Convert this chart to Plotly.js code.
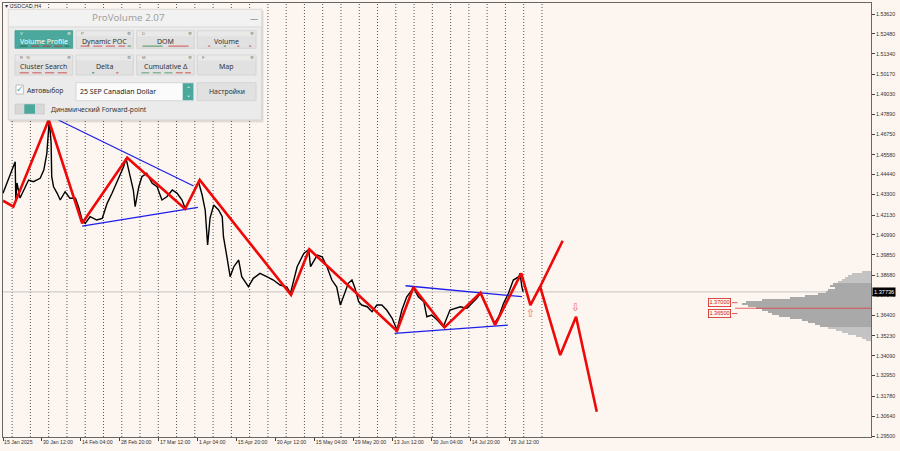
<!DOCTYPE html>
<html>
<head>
<meta charset="utf-8">
<script src="https://cdn.plot.ly/plotly-3.0.1.min.js"></script>
<style>html,body{margin:0;padding:0;background:#fdf5ef;}#chart{width:900px;height:451px;}</style>
</head>
<body>
<div id="chart"></div>
<script>
// ---------------- DATA ----------------
// x = H4 bar index counted from 15 Jan 2025 00:00
const timeTickBars = [0,64,128,192,256,320,384,448,512,576,640,704,768,832];
const timeTickLabels = ['15 Jan 2025','30 Jan 12:00','14 Feb 04:00','28 Feb 20:00','17 Mar 12:00','1 Apr 04:00','15 Apr 20:00','30 Apr 12:00','15 May 04:00','29 May 20:00','13 Jun 12:00','30 Jun 04:00','14 Jul 20:00','29 Jul 12:00'];
const weekSeparatorBars = [15,45,75,105,135,165,195,225,255,285,315,345,375,405,435,465,495,525,555,585,615,645,675,705,735,765,795,825,855,885];

const priceTickVals = [1.53620,1.52480,1.51340,1.50170,1.49030,1.47890,1.46750,1.45580,1.44440,1.43300,1.42130,1.40990,1.39850,1.38680,1.37540,1.36400,1.35230,1.34090,1.32950,1.31780,1.30640,1.29500];
const priceTickLabels = ['1.53620','1.52480','1.51340','1.50170','1.49030','1.47890','1.46750','1.45580','1.44440','1.43300','1.42130','1.40990','1.39850','1.38680','1.37540','1.36400','1.35230','1.34090','1.32950','1.31780','1.30640','1.29500'];

const priceBars = [
  0,7,15,20,21,23,28,37,42,50,
  61,67,72,76,79,80,83,89,94,102,
  110,119,124,130,135,143,154,163,171,179,
  187,198,202,209,214,217,223,228,236,245,
  253,261,269,278,286,294,299,308,316,321,
  327,332,336,340,346,354,360,362,368,373,
  379,387,392,403,411,422,433,444,455,466,
  472,483,494,502,505,516,524,532,540,548,
  554,559,567,573,578,584,589,598,606,614,
  622,630,639,647,655,663,672,674,682,691,
  696,704,713,723,734,743,751,762,770,778,
  784,792,800,807,814,822,830,838,847,849,
  852,854];
const priceValues = [
  1.43371,1.44034,1.44703,1.45177,1.42988,1.43960,1.43102,1.43748,1.44131,1.44034,
  1.44228,1.44703,1.45657,1.47561,1.46246,1.44320,1.43748,1.43371,1.42988,1.43462,
  1.43085,1.43085,1.42605,1.41845,1.41656,1.42033,1.41845,1.41942,1.42799,1.43371,
  1.44034,1.44892,1.45372,1.44320,1.43560,1.42605,1.43748,1.44320,1.44514,1.43943,
  1.43748,1.42988,1.43177,1.43560,1.43371,1.42988,1.42514,1.43085,1.43657,1.44034,
  1.43274,1.42416,1.40416,1.41959,1.42702,1.42416,1.42033,1.40890,1.39673,1.38604,
  1.39176,1.39558,1.38604,1.38032,1.38512,1.38798,1.38604,1.38415,1.38129,1.38032,
  1.37655,1.39176,1.39941,1.40159,1.39176,1.39844,1.39747,1.39176,1.38415,1.38015,
  1.36986,1.37461,1.38227,1.38415,1.37941,1.37175,1.36986,1.36889,1.36603,1.36986,
  1.36986,1.36700,1.36226,1.35557,1.36700,1.37461,1.37844,1.37958,1.37461,1.37175,
  1.36317,1.36415,1.36129,1.35746,1.36700,1.36798,1.36889,1.36798,1.37083,1.37369,
  1.37655,1.37083,1.36512,1.35940,1.36317,1.37083,1.37655,1.38415,1.38604,1.38798,
  1.38032,1.37736];
const currentPrice = 1.37736;

const zigzagBars = [0,17,75,130,204,299,323,473,503,647,674,725,784,808,851,866,882,919];
const zigzagPrices = [1.42948,1.42605,1.47561,1.41656,1.45406,1.42474,1.44131,1.37558,1.40170,1.35500,1.37998,1.35712,1.37689,1.35843,1.38798,1.36986,1.38032,1.40662];
const altPathBars = [882,915,941,975];
const altPathPrices = [1.38032,1.34128,1.36317,1.30887];

const wedgeTopBars = [91,313];      const wedgeTopPrices = [1.47561,1.43788];
const wedgeBottomBars = [130,320];  const wedgeBottomPrices = [1.41502,1.42571];
const channelTopBars = [661,852];   const channelTopPrices = [1.38089,1.37461];
const channelBottomBars = [643,829];const channelBottomPrices = [1.35368,1.35843];

const signalBars = [866,940];
const signalPrices = [1.36472,1.36798];
const signalGlyphs = ['⇧','⇩'];

const profilePrices = [1.3887,1.3876,1.3864,1.3853,1.3842,1.3830,1.3819,1.3807,1.3796,1.3784,1.3773,1.3762,1.3750,1.3739,1.3727,1.3716,1.3704,1.3693,1.3682,1.3670,1.3659,1.3647,1.3636,1.3624,1.3613,1.3601,1.3590,1.3579,1.3567,1.3556,1.3544,1.3533,1.3521,1.3510,1.3499];
const profileVolumes = [9,19,23,26,29,33,38,41,36,43,45,53,66,81,109,125,129,123,115,109,103,99,92,81,69,63,56,51,43,35,29,23,15,9,5];
const valueAreaHigh = 1.3819, valueAreaLow = 1.3579;
const pocPrice = 1.3680;

const levelPrices = [1.3712,1.3650];
const levelTexts = ['1.37000','1.36500'];
const levelLabelBar = 1176;
const levelTickBars = [1197,1206];

// ---------------- STYLE / LAYOUT ----------------
const BG = '#fdf5ef';
const RED = 'rgb(238,8,8)';
const BLUE = 'rgb(30,30,235)';
const TEAL = '#4aa89c';
const X_MAX = 1425.3;

const traces = [];
traces.push({type:'scatter',mode:'lines',x:priceBars,y:priceValues,line:{color:'#000',width:1.4},hoverinfo:'skip'});
[[wedgeTopBars,wedgeTopPrices],[wedgeBottomBars,wedgeBottomPrices],[channelTopBars,channelTopPrices],[channelBottomBars,channelBottomPrices]].forEach(function(p){
  traces.push({type:'scatter',mode:'lines',x:p[0],y:p[1],line:{color:BLUE,width:1.3},hoverinfo:'skip'});
});
traces.push({type:'scatter',mode:'lines',x:zigzagBars,y:zigzagPrices,line:{color:RED,width:2.6},hoverinfo:'skip'});
traces.push({type:'scatter',mode:'lines',x:altPathBars,y:altPathPrices,line:{color:RED,width:2.6},hoverinfo:'skip'});
traces.push({type:'scatter',mode:'text',x:signalBars,y:signalPrices,text:signalGlyphs,textfont:{family:'DejaVu Sans',size:11,color:'#f07070'},hoverinfo:'skip'});
traces.push({type:'bar',orientation:'h',xaxis:'x2',yaxis:'y',x:profileVolumes,y:profilePrices,width:0.00115,
  marker:{color:profilePrices.map(function(p){return (p<=valueAreaHigh && p>=valueAreaLow)?'#a9a9a9':'#c3c3c3';}),line:{width:0}},hoverinfo:'skip'});

const shapes = [];
weekSeparatorBars.forEach(function(b){
  shapes.push({type:'line',xref:'x',yref:'paper',x0:b,x1:b,y0:0,y1:1,layer:'below',line:{color:'#555',width:1,dash:'1px,2px'}});
});
shapes.push({type:'line',xref:'paper',yref:'y',x0:0,x1:1,y0:currentPrice,y1:currentPrice,layer:'below',line:{color:'#c4c4c4',width:1}});
shapes.push({type:'line',xref:'x',yref:'y',x0:1202,x1:X_MAX,y0:pocPrice,y1:pocPrice,layer:'above',line:{color:'#e04040',width:0.8}});
levelPrices.forEach(function(p){
  shapes.push({type:'line',xref:'x',yref:'y',x0:levelTickBars[0],x1:levelTickBars[1],y0:p,y1:p,layer:'above',line:{color:'#d03030',width:0.8}});
});

const annotations = [];
levelPrices.forEach(function(p,i){
  annotations.push({xref:'x',yref:'y',x:levelLabelBar,y:p,text:levelTexts[i],showarrow:false,
    font:{family:'Liberation Sans',size:5.6,color:'#d02020'},bordercolor:'#d02020',borderwidth:0.8,borderpad:0.6,bgcolor:BG});
});
annotations.push({xref:'paper',yref:'y',x:1,y:currentPrice,xanchor:'left',xshift:1,text:'1.37736',showarrow:false,
  font:{family:'Liberation Sans',size:5.6,color:'#fff'},bgcolor:'#000',borderpad:1});

// ---- ProVolume panel (decoration, pixel placement) ----
function PX(px){return (px-3)/868;}
function PY(py){return (437-py)/434;}
function rect(x0,y0,x1,y1,fill,line,lw){
  shapes.push({type:'rect',xref:'paper',yref:'paper',x0:PX(x0),x1:PX(x1),y0:PY(y1),y1:PY(y0),fillcolor:fill,layer:'above',
    line:{color:line||fill,width:line?(lw||0.8):0}});
}
function hline(x0,x1,y,color,w){
  shapes.push({type:'line',xref:'paper',yref:'paper',x0:PX(x0),x1:PX(x1),y0:PY(y),y1:PY(y),layer:'above',line:{color:color,width:w||1.2}});
}
function txt(px,py,t,size,color,anchor,family){
  annotations.push({xref:'paper',yref:'paper',x:PX(px),y:PY(py),text:t,showarrow:false,xanchor:anchor||'center',yanchor:'middle',
    font:{family:family||'Noto Sans',size:size,color:color}});
}
annotations.push({xref:'paper',yref:'paper',x:PX(3),y:PY(6),text:'▾ USDCAD,H4',showarrow:false,xanchor:'left',yanchor:'middle',font:{family:'Liberation Sans',size:5.5,color:'#333'}});

rect(9.5,10.5,263.5,122.5,'rgba(0,0,0,0.10)');
rect(8.3,9.3,261.7,120,'#ebebeb','#cdcdcd',0.8);
rect(8.8,9.8,261.2,26.7,'#f2f2f2');
hline(8.8,261.2,26.9,'#d8d8d8',0.8);
txt(128.3,17.6,'ProVolume 2.07',9.8,'#a2a2a2');
txt(254.5,19,'—',8,'#8a8a8a');

const buttons = [
  {x0:15,x1:72.7,y0:30.7,y1:48.3,label:'Volume Profile',key:'V',active:true,ind:[[0.08,0.22,'#2f6f55'],[0.28,0.42,'#a94a4a'],[0.48,0.62,'#a94a4a'],[0.68,0.82,'#a94a4a'],[0.86,0.94,'#2f6f55']]},
  {x0:76,x1:133.3,y0:30.7,y1:48.3,label:'Dynamic POC',key:'P',ind:[[0.08,0.24,'#d06060'],[0.3,0.46,'#d06060'],[0.52,0.68,'#d06060'],[0.74,0.86,'#d06060'],[0.9,0.96,'#5a9a6a']]},
  {x0:136.7,x1:194.3,y0:30.7,y1:48.3,label:'DOM',key:'D',ind:[[0.1,0.45,'#5a9a6a'],[0.55,0.9,'#d06060']]},
  {x0:197.3,x1:256,y0:30.7,y1:48.3,label:'Volume',key:'',ind:[[0.18,0.22,'#d06060'],[0.45,0.49,'#4a8a5a'],[0.68,0.72,'#d06060'],[0.88,0.92,'#d06060']]},
  {x0:15,x1:72.7,y0:55,y1:75,label:'Cluster Search',key:'R   N',ind:[[0.08,0.24,'#d06060'],[0.3,0.46,'#d06060'],[0.52,0.68,'#d06060'],[0.74,0.9,'#d06060']]},
  {x0:76,x1:133.3,y0:55,y1:75,label:'Delta',key:'',ind:[[0.28,0.32,'#4a8a5a'],[0.7,0.74,'#d06060']]},
  {x0:136.7,x1:194.3,y0:55,y1:75,label:'Cumulative Δ',key:'M',ind:[[0.08,0.22,'#6aa67a'],[0.28,0.42,'#6aa67a'],[0.48,0.62,'#6aa67a'],[0.68,0.8,'#d06060'],[0.84,0.94,'#d06060']]},
  {x0:197.3,x1:256,y0:55,y1:75,label:'Map',key:'F',ind:[]}
];
buttons.forEach(function(b){
  rect(b.x0,b.y0,b.x1,b.y1,b.active?TEAL:'#e1e1e1',b.active?'#3f9a8e':'#d0d0d0',0.8);
  if(!b.active){ rect(b.x0+0.6,b.y0+0.6,b.x1-0.6,b.y0+5.5,'#e9e9e9'); }
  const cy=(b.y0+b.y1)/2+1.6;
  txt((b.x0+b.x1)/2,cy,b.label,7,b.active?'#ffffff':'#333333');
  if(b.key) txt(b.x0+3,b.y0+3,b.key,4.2,b.active?'#e8f4f2':'#777','left','Liberation Sans');
  txt(b.x1-4,b.y0+3,'⚙',4.5,b.active?'#e8f4f2':'#777','center','DejaVu Sans');
  const w=b.x1-b.x0;
  b.ind.forEach(function(s){ hline(b.x0+w*s[0],b.x0+w*s[1],b.y1-2.2,s[2],1.1); });
});
// row 3
rect(16,85,23.3,94,'#ffffff','#a9a9a9',0.7);
txt(19.8,88.6,'✓',9,TEAL,'center','DejaVu Sans');
txt(25,90.7,'Автовыбор',6.8,'#333','left');
rect(76,82.7,193.3,100.7,'#fbfbfb','#cfcfcf',0.8);
rect(182.7,83.2,193.3,100.2,TEAL);
txt(188,88.2,'⌃',6,'#ffffff','center','DejaVu Sans');
txt(188,94.6,'⌄',6,'#ffffff','center','DejaVu Sans');
txt(78.3,91.7,'25 SEP Canadian Dollar',7,'#222','left');
rect(197.3,82.7,256,100.7,'#e1e1e1','#d0d0d0',0.8);
txt(226.7,91.7,'Настройки',6.9,'#333');
// row 4
rect(15,104,44.3,114,'#d8d8d8','#c6c6c6',0.6);
rect(24.3,104.3,35,113.7,TEAL);
txt(49.3,109.3,'Динамический Forward-point',6.7,'#333','left');

const layout = {
  width:900,height:451,
  margin:{l:3,r:29,t:3,b:14,pad:0},
  paper_bgcolor:BG,plot_bgcolor:BG,
  showlegend:false,hovermode:false,bargap:0,
  xaxis:{type:'linear',range:[0,X_MAX],fixedrange:true,tickmode:'array',tickvals:timeTickBars,ticktext:timeTickLabels,
    tickangle:0,automargin:false,
    ticks:'outside',ticklen:2.5,tickcolor:'#444',tickwidth:1,ticklabelposition:'outside right',
    tickfont:{family:'Liberation Sans',size:5.2,color:'#333'},showgrid:false,zeroline:false,
    showline:true,linecolor:'#666',linewidth:1,mirror:true},
  xaxis2:{overlaying:'x',anchor:'y',range:[868,0],visible:false,fixedrange:true},
  yaxis:{side:'right',range:[1.29443,1.54249],fixedrange:true,tickmode:'array',tickvals:priceTickVals,ticktext:priceTickLabels,
    automargin:false,
    ticks:'outside',ticklen:3,tickcolor:'#444',tickfont:{family:'Liberation Sans',size:5.3,color:'#333'},
    showgrid:false,zeroline:false,showline:true,linecolor:'#666',linewidth:1,mirror:true},
  shapes:shapes,annotations:annotations
};
Plotly.newPlot('chart',traces,layout,{displayModeBar:false,staticPlot:true});
</script>
</body>
</html>
